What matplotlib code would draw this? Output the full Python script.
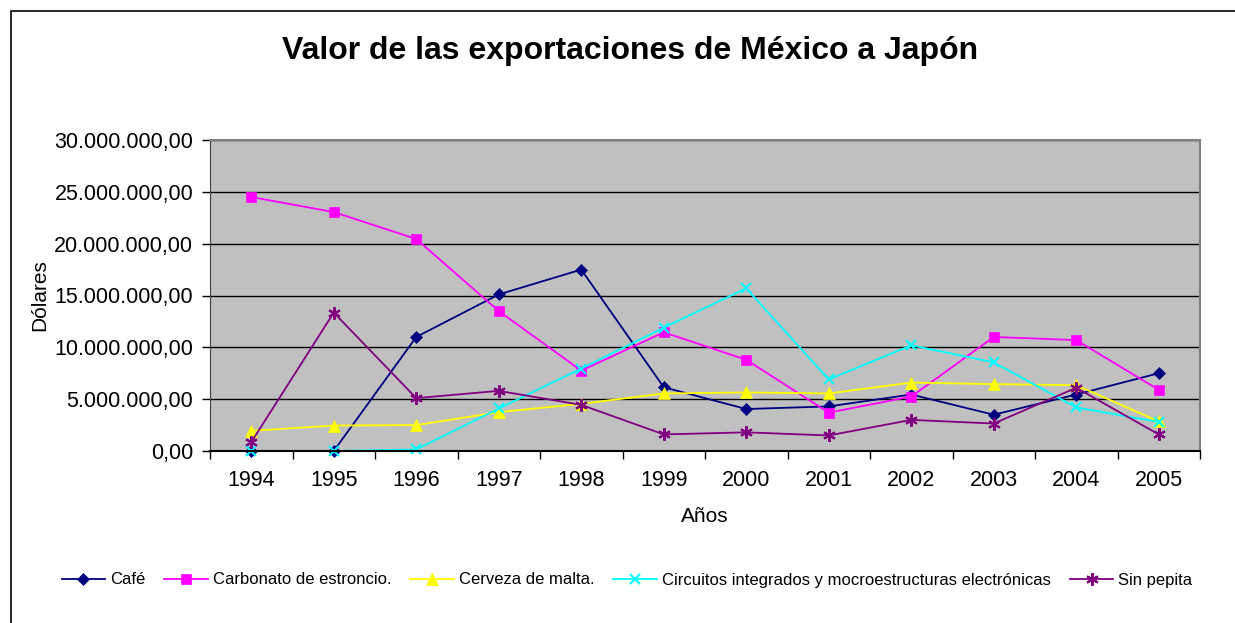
import numpy as np
import matplotlib
matplotlib.use('Agg')
import matplotlib.pyplot as plt
import matplotlib.ticker as mticker
from matplotlib.patches import Rectangle

plt.rcParams['font.family'] = ['Liberation Sans', 'DejaVu Sans']

#datos
anios = ['1994', '1995', '1996', '1997', '1998', '1999', '2000', '2001', '2002', '2003', '2004', '2005']
cafe = [0, 0, 11.0e6, 15.1e6, 17.5e6, 6.15e6, 4.05e6, 4.3e6, 5.45e6, 3.5e6, 5.45e6, 7.5e6]
carbonato = [24.5e6, 23.05e6, 20.45e6, 13.5e6, 7.75e6, 11.45e6, 8.8e6, 3.7e6, 5.25e6, 11.0e6, 10.7e6, 5.9e6]
cerveza = [1.95e6, 2.45e6, 2.5e6, 3.75e6, 4.55e6, 5.55e6, 5.65e6, 5.55e6, 6.6e6, 6.45e6, 6.35e6, 2.85e6]
circuitos = [0, 0, 0.15e6, 4.1e6, 7.95e6, 11.9e6, 15.7e6, 6.9e6, 10.2e6, 8.55e6, 4.2e6, 2.8e6]
sin_pepita = [0.85e6, 13.35e6, 5.1e6, 5.8e6, 4.45e6, 1.6e6, 1.8e6, 1.5e6, 3.0e6, 2.65e6, 6.1e6, 1.6e6]

nombres = ['Café', 'Carbonato de estroncio.', 'Cerveza de malta.',
           'Circuitos integrados y mocroestructuras electrónicas', 'Sin pepita']

series = [cafe, carbonato, cerveza, circuitos, sin_pepita]
colores = ['#000080', '#FF00FF', '#FFFF00', '#00FFFF', '#800080']
marcadores = ['D', 's', '^', 'x', (6, 2, 0)]
tamanos = [6, 7, 8, 7, 9]

fig = plt.figure(figsize=(12.35, 6.23), dpi=100)
# marco del grafico (solo se ven borde izquierdo y superior)
fig.patches.append(Rectangle((11/1235, -0.1), 1.2, 1 - 11/623 + 0.1, transform=fig.transFigure,
                             facecolor='none', edgecolor='black', linewidth=1.2))

ax = fig.add_axes([210/1235, 1 - 451/623, 990/1235, 311/623])
ax.set_facecolor('#C0C0C0')

x = np.arange(len(anios))
for s, nom, c, m, t in zip(series, nombres, colores, marcadores, tamanos):
    ax.plot(x, s, color=c, marker=m, markersize=t, linewidth=1.3, label=nom,
            markeredgewidth=1.5 if m in ('x', (6, 2, 0)) else 0.5, markeredgecolor=c, clip_on=False)

ax.set_xlim(-0.5, len(anios) - 0.5)
ax.set_ylim(0, 30e6)
ax.yaxis.set_major_locator(mticker.MultipleLocator(5e6))
ax.yaxis.set_major_formatter(mticker.FuncFormatter(
    lambda v, p: '{:,.2f}'.format(v).replace(',', 'X').replace('.', ',').replace('X', '.')))
ax.grid(axis='y', color='black', linewidth=1.0)
ax.set_axisbelow(True)

ax.set_xticks(np.arange(-0.5, len(anios)))
ax.set_xticklabels([])
ax.set_xticks(x, minor=True)
ax.set_xticklabels(anios, minor=True)
ax.tick_params(axis='x', which='major', direction='out', length=6, width=1)
ax.tick_params(axis='x', which='minor', length=0, pad=14, labelsize=15.5)
ax.tick_params(axis='y', direction='out', length=6, width=1, labelsize=15.5, pad=6)

for lado in ['top', 'right']:
    ax.spines[lado].set_color('#808080')
    ax.spines[lado].set_linewidth(1.5)
ax.spines['left'].set_color('#404040')
ax.spines['bottom'].set_color('black')
ax.spines['bottom'].set_linewidth(1.5)

ax.set_ylabel('Dólares', fontsize=15, labelpad=4)
ax.set_xlabel('Años', fontsize=15, labelpad=11)

fig.text(630/1235, 1 - 51/623, 'Valor de las exportaciones de México a Japón', ha='center', va='center',
         fontsize=23, fontweight='bold')

fig.legend(loc='center', bbox_to_anchor=(627/1235, 1 - 580/623), ncol=5, frameon=False,
           fontsize=12, handlelength=2.6, columnspacing=1.15, handletextpad=0.3)

plt.savefig('out.png', dpi=100)
